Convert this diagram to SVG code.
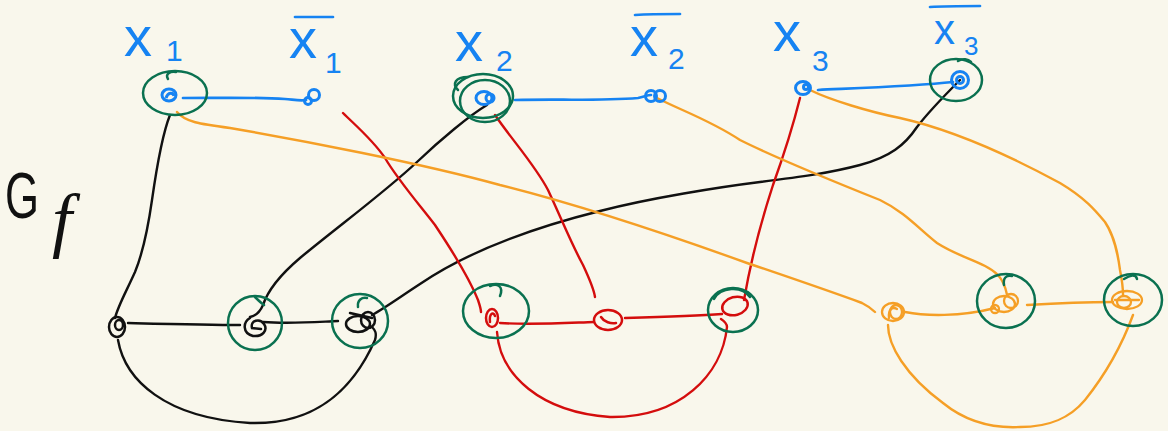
<svg xmlns="http://www.w3.org/2000/svg" width="1168" height="431" viewBox="0 0 1168 431">
  <style>
    .e { fill: none; stroke-width: 2.4; stroke-linecap: round; stroke-linejoin: round; }
    .k { stroke: #111111; }
    .r { stroke: #d40d0d; }
    .o { stroke: #f59f26; }
    .b { stroke: #1683f2; stroke-width: 2.7; }
    .g { fill: none; stroke: #0a7150; stroke-width: 2.5; stroke-linecap: round; }
    .nb { fill: none; stroke: #1683f2; stroke-width: 3; }
    .nk { fill: none; stroke: #111111; stroke-width: 2.5; stroke-linecap: round; }
    .nr { fill: none; stroke: #d40d0d; stroke-width: 2.5; stroke-linecap: round; }
    .no { fill: none; stroke: #f59f26; stroke-width: 2.3; stroke-linecap: round; }
    .lbl { font-family: "Liberation Sans", Arial, sans-serif; fill: #1683f2; font-size: 56px; }
    .sub { font-size: 30px; }
    .lbl.small { font-size: 42px; }
    .lbl.small .sub { font-size: 26px; }
    .bar { fill: none; stroke: #1683f2; stroke-width: 2.7; stroke-linecap: round; }
  </style>

  <rect width="1168" height="431" fill="#f9f7ec"/>

  <!-- graph name -->
  <g id="title" fill="#111111">
    <text x="5" y="218" font-family="Liberation Sans, Arial, sans-serif" font-size="64" textLength="34" lengthAdjust="spacingAndGlyphs">G</text>
    <text x="52" y="244" font-family="Liberation Serif, Times New Roman, serif" font-style="italic" font-size="72">f</text>
  </g>

  <!-- edges -->
  <g id="connectors">
    <!-- variable edges -->
    <path class="e b" d="M183,98 C220,98 255,97 285,99 C296,100 301,101 306,100"/>
    <path class="e b" d="M515,100 C560,99 600,101 638,98 C644,97 647,95 651,95"/>
    <path class="e b" d="M818,90 C860,88 915,86 953,82"/>

    <!-- clause 1 (black) -->
    <path class="e k" d="M170,115 C162,135 157,165 152,200 C147,235 142,255 135,272 C126,292 118,306 115,318"/>
    <path class="e k" d="M487,105 C470,115 440,140 417,162 C385,192 340,225 300,258 C280,275 268,290 263,305 C260,312 255,316 250,317"/>
    <path class="e k" d="M960,80 C945,95 930,110 917,127 C905,145 890,157 860,165 C830,173 800,177 760,182 C720,187 650,198 600,211 C540,226 470,250 420,284 C400,297 385,308 372,315"/>
    <path class="e k" d="M128,323 C170,324 210,325 240,325"/>
    <path class="e k" d="M263,322 C290,324 315,322 338,321"/>
    <path class="e k" d="M118,340 C125,380 165,418 250,423 C320,425 355,385 375,340 C377,333 375,330 372,327"/>

    <!-- clause 2 (red) -->
    <path class="e r" d="M343,113 C355,125 373,140 385,158 C398,180 418,203 435,225 C455,255 470,280 478,300 C480,306 481,310 481,312"/>
    <path class="e r" d="M495,115 C512,140 535,165 548,190 C562,220 572,245 583,265 C590,280 594,290 595,297"/>
    <path class="e r" d="M800,98 C792,130 782,160 773,185 C760,225 750,265 744,300"/>
    <path class="e r" d="M500,323 C530,325 565,323 594,322"/>
    <path class="e r" d="M625,318 C660,317 695,316 722,314"/>
    <path class="e r" d="M497,332 C500,375 540,412 610,417 C680,418 722,375 727,327 C727,323 724,321 721,319"/>

    <!-- clause 3 (orange) -->
    <path class="e o" d="M177,112 C185,122 200,124 230,128 C300,140 420,163 500,185 C560,200 650,228 747,263 C800,281 840,295 862,303 C868,306 872,309 875,312"/>
    <path class="e o" d="M657,98 C680,110 710,120 740,140 C780,160 830,180 880,200 C905,212 920,230 937,243 C960,258 985,262 998,275 C1005,283 1006,290 1007,295"/>
    <path class="e o" d="M810,90 C830,100 870,112 900,118 C940,127 990,145 1060,183 C1085,198 1095,210 1105,222 C1115,237 1118,255 1120,270 C1122,280 1123,288 1123,295"/>
    <path class="e o" d="M905,312 C925,316 960,317 995,308"/>
    <path class="e o" d="M1027,305 C1060,303 1090,302 1113,302"/>
    <path class="e o" d="M888,325 C888,345 905,375 943,403 C970,425 1000,428 1020,427 C1050,427 1070,418 1085,400 C1105,375 1122,345 1133,315"/>
  </g>

  <!-- variable nodes -->
  <g id="n-x1">
    <text class="lbl"><tspan x="124" y="56">x</tspan><tspan class="sub" x="166" y="61">1</tspan></text>
    <ellipse class="g" cx="175" cy="93" rx="32" ry="22"/>
    <path class="g" d="M168,79 C165,74 170,71 176,72"/>
    <ellipse class="nb" cx="169" cy="95" rx="7" ry="6"/>
    <path class="nb" d="M166,98 C168,92 173,92 174,96"/>
  </g>

  <g id="n-nx1">
    <path class="bar" d="M295,17 L333,17"/>
    <text class="lbl"><tspan x="289" y="58">x</tspan><tspan class="sub" x="325" y="73">1</tspan></text>
    <circle class="nb" cx="314" cy="95" r="5.5"/>
    <circle class="nb" cx="308" cy="101" r="3.5"/>
  </g>

  <g id="n-x2">
    <text class="lbl"><tspan x="455" y="61">x</tspan><tspan class="sub" x="496" y="71">2</tspan></text>
    <ellipse class="g" cx="483" cy="96" rx="30" ry="22"/>
    <ellipse class="g" cx="485" cy="101" rx="25" ry="21"/>
    <path class="g" d="M458,90 C452,84 455,77 468,77"/>
    <ellipse class="nb" cx="484" cy="98" rx="8" ry="6.5"/>
    <circle class="nb" cx="490" cy="98" r="4"/>
  </g>

  <g id="n-nx2">
    <path class="bar" d="M635,15 C650,14 665,14 680,14"/>
    <text class="lbl"><tspan x="630" y="56">x</tspan><tspan class="sub" x="668" y="69">2</tspan></text>
    <circle class="nb" cx="651" cy="96" r="5.5"/>
    <circle class="nb" cx="660" cy="96" r="5.5"/>
  </g>

  <g id="n-x3">
    <text class="lbl"><tspan x="773" y="51">x</tspan><tspan class="sub" x="812" y="71">3</tspan></text>
    <ellipse class="nb" cx="803" cy="88" rx="7.5" ry="6.5"/>
    <circle class="nb" cx="806" cy="87" r="2.5"/>
  </g>

  <g id="n-nx3">
    <path class="bar" d="M930,7 C945,6 965,6 980,6"/>
    <text class="lbl small"><tspan x="934" y="44">x</tspan><tspan class="sub" x="964" y="55">3</tspan></text>
    <ellipse class="g" cx="956" cy="80" rx="26" ry="21"/>
    <path class="g" d="M958,61 C963,58 968,59 971,62"/>
    <circle class="nb" cx="960" cy="80" r="8.5"/>
    <circle class="nb" cx="960" cy="80" r="3.5"/>
  </g>

  <!-- clause 1 nodes -->
  <g id="c1-a">
    <ellipse class="nk" cx="117" cy="327" rx="8" ry="10"/>
    <ellipse class="nk" cx="119" cy="325" rx="4" ry="5"/>
  </g>
  <g id="c1-b">
    <ellipse class="g" cx="255" cy="323" rx="27" ry="27"/>
    <path class="g" d="M255,297 C258,300 261,303 264,305"/>
    <path class="nk" d="M250,318 C243,322 242,333 253,336 C263,337 268,330 264,324 C260,318 250,320 252,328 L261,329"/>
  </g>
  <g id="c1-c">
    <ellipse class="g" cx="360" cy="321" rx="28" ry="27"/>
    <path class="g" d="M358,307 C357,300 362,297 367,298"/>
    <ellipse class="nk" cx="358" cy="324" rx="12" ry="8"/>
    <ellipse class="nk" cx="368" cy="320" rx="7" ry="8"/>
    <path class="nk" d="M350,313 L372,318"/>
  </g>

  <!-- clause 2 nodes -->
  <g id="c2-a">
    <ellipse class="g" cx="496" cy="311" rx="33" ry="27"/>
    <path class="g" d="M490,286 C497,283 504,286 500,296"/>
    <ellipse class="nr" cx="492" cy="318" rx="6" ry="9"/>
    <path class="nr" d="M490,322 C489,314 493,311 495,316"/>
  </g>
  <g id="c2-b">
    <ellipse class="nr" cx="608" cy="320" rx="14" ry="10"/>
    <path class="nr" d="M601,317 C604,322 611,324 616,323"/>
  </g>
  <g id="c2-c">
    <ellipse class="g" cx="733" cy="310" rx="25" ry="22"/>
    <path class="g" d="M714,299 C720,287 742,285 750,297"/>
    <ellipse class="nr" cx="735" cy="306" rx="13" ry="9" transform="rotate(-15 735 306)"/>
  </g>

  <!-- clause 3 nodes -->
  <g id="c3-a">
    <ellipse class="no" cx="893" cy="312" rx="11" ry="9"/>
    <ellipse class="no" cx="896" cy="312" rx="6" ry="7"/>
    <path class="no" d="M889,318 C888,310 892,306 897,309"/>
  </g>
  <g id="c3-b">
    <ellipse class="g" cx="1006" cy="301" rx="29" ry="27"/>
    <path class="g" d="M1004,285 C1003,278 1006,275 1012,276"/>
    <ellipse class="no" cx="1004" cy="304" rx="11" ry="8"/>
    <ellipse class="no" cx="1011" cy="301" rx="7" ry="7"/>
    <circle class="no" cx="995" cy="309" r="4"/>
  </g>
  <g id="c3-c">
    <ellipse class="g" cx="1133" cy="300" rx="29" ry="26"/>
    <path class="g" d="M1124,279 C1130,275 1136,274 1137,279"/>
    <ellipse class="no" cx="1127" cy="300" rx="15" ry="9"/>
    <ellipse class="no" cx="1124" cy="302" rx="7" ry="6"/>
    <path class="no" d="M1115,300 L1139,300"/>
  </g>
</svg>
